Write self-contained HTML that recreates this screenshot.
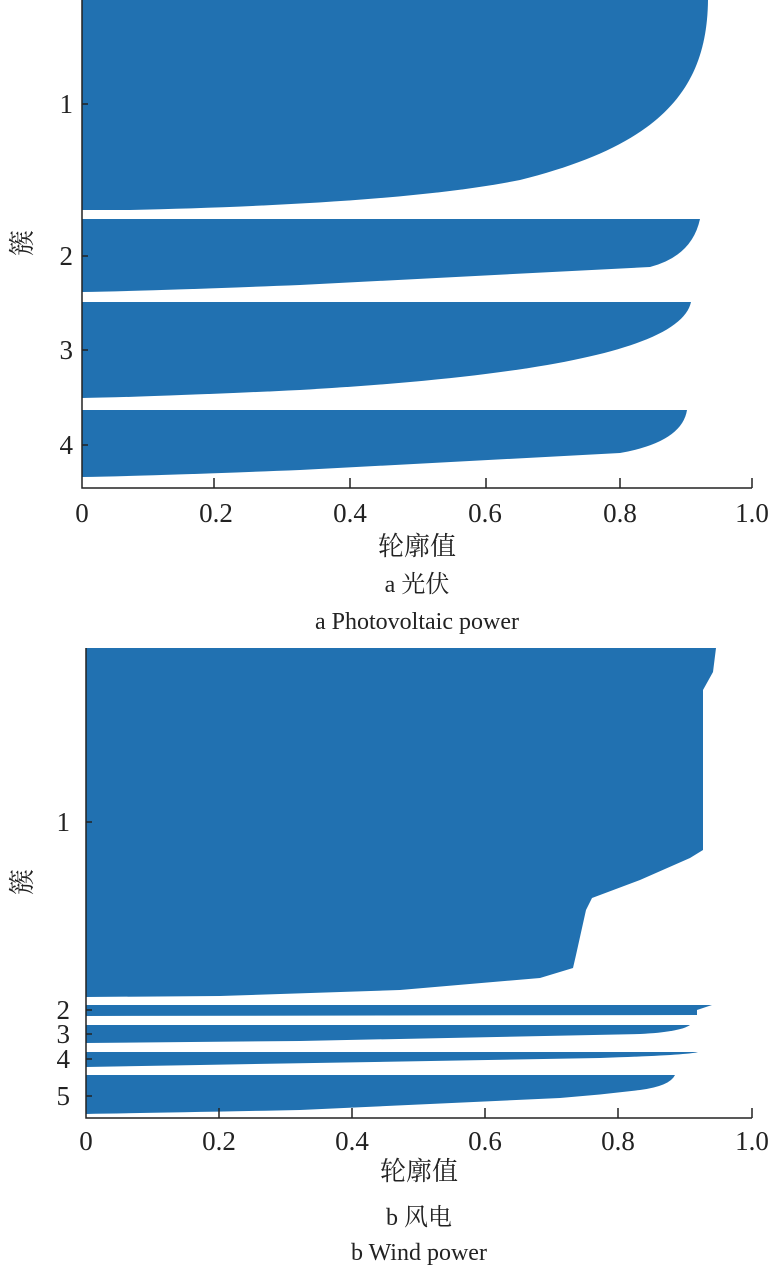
<!DOCTYPE html>
<html><head><meta charset="utf-8"><style>
body{margin:0;background:#fff}
svg text{font-family:"Liberation Serif","Noto Serif CJK SC",serif;fill:#222}
</style></head><body>
<svg width="771" height="1268" viewBox="0 0 771 1268" xmlns="http://www.w3.org/2000/svg">
<g fill="#2171b1">
<path d="M82,0 L708,0 C707,90 660,145 520,180 C420,200 260,207 130,210 L82,210 Z"/>
<path d="M82,219 L700,219 Q692,256 650,267 L300,285 Q150,291 82,292 Z"/>
<path d="M82,302 L691,302 C682,345 560,375 300,390 Q150,397 82,398 Z"/>
<path d="M82,410 L687,410 Q682,442 620,453 L300,470 Q150,476 82,477 Z"/>
<path d="M86,648 L716,648 L713,672 L703,690 L703,850 L690,858 L640,880 L592,898 L586,910 L576,955 L573,968 L540,978 L400,990 L220,996 L86,997 Z"/>
<path d="M86,1005 L712,1005 L697,1010 L697,1015 L86,1016 Z"/>
<path d="M86,1025 L690,1025 Q680,1032 640,1034 L300,1041 L86,1043 Z"/>
<path d="M86,1052 L698,1052 Q690,1055 600,1058 L200,1065 L86,1067 Z"/>
<path d="M86,1075 L675,1075 Q670,1086 640,1090 Q600,1095 560,1098 L300,1110 Q150,1113 86,1114 Z"/>
</g>
<g stroke="#222" stroke-width="1.5" fill="none">
<path d="M82,0 V488 H752"/>
<path d="M214,488 v-10 M350,488 v-10 M486,488 v-10 M620,488 v-10 M752,488 v-10 M82,104 h6 M82,256 h6 M82,350 h6 M82,445 h6"/>
<path d="M86,648 V1118 H752"/>
<path d="M219,1118 v-10 M352,1118 v-10 M485,1118 v-10 M618,1118 v-10 M752,1118 v-10 M86,822 h6 M86,1010 h6 M86,1034 h6 M86,1059 h6 M86,1096 h6"/>
</g>
<g font-size="27" text-anchor="middle">
<text x="82" y="522">0</text><text x="216" y="522">0.2</text><text x="350" y="522">0.4</text><text x="485" y="522">0.6</text><text x="620" y="522">0.8</text><text x="752" y="522">1.0</text>
<text x="86" y="1150">0</text><text x="219" y="1150">0.2</text><text x="352" y="1150">0.4</text><text x="485" y="1150">0.6</text><text x="618" y="1150">0.8</text><text x="752" y="1150">1.0</text>
</g>
<g font-size="27" text-anchor="end">
<text x="73" y="113">1</text><text x="73" y="265">2</text><text x="73" y="359">3</text><text x="73" y="454">4</text>
<text x="70" y="831">1</text><text x="70" y="1019">2</text><text x="70" y="1043">3</text><text x="70" y="1068">4</text><text x="70" y="1105">5</text>
</g>
<g font-size="26" text-anchor="middle">
<text x="22" y="243" transform="rotate(-90 22 243)" dy="9">簇</text>
<text x="22" y="882" transform="rotate(-90 22 882)" dy="9">簇</text>
<text x="417" y="555">轮廓值</text>
<text x="417" y="592" font-size="24">a  光伏</text>
<text x="417" y="629" font-size="24">a  Photovoltaic power</text>
<text x="419" y="1180">轮廓值</text>
<text x="419" y="1225" font-size="24">b  风电</text>
<text x="419" y="1260" font-size="24">b  Wind power</text>
</g>
</svg>
</body></html>
